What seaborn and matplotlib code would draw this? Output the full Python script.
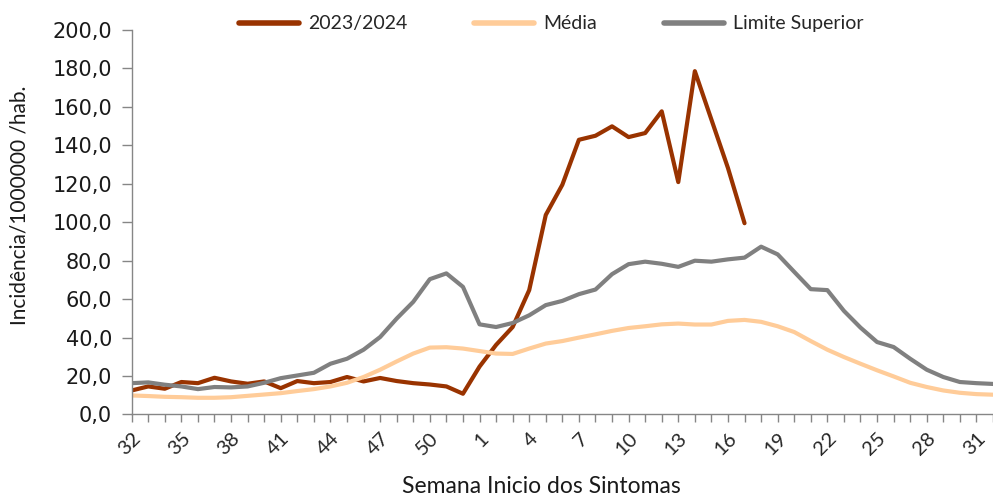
import numpy as np
import pandas as pd
import matplotlib.pyplot as plt
import seaborn as sns
from matplotlib.ticker import FuncFormatter

# Semanas epidemiologicas (32/2023 ... 31/2024, +1 cortada na borda)
weeks = list(range(32, 53)) + list(range(1, 33))

casos_2324 = [12.5, 14.6, 13.4, 16.9, 16.3, 19.1, 17.2, 16.0, 17.2, 13.7,
              17.4, 16.3, 16.9, 19.5, 17.2, 19.0, 17.4, 16.3, 15.6, 14.6,
              10.8, 24.9, 36.2, 45.5, 64.7, 103.8, 119.5, 142.9, 145.0, 149.9,
              144.3, 146.4, 157.7, 120.9, 178.6, 153.4, 128.2, 99.5]

media = [9.9, 9.6, 9.2, 9.0, 8.7, 8.7, 9.0, 9.7, 10.4, 11.1,
         12.2, 13.2, 14.6, 16.5, 19.5, 23.3, 27.6, 31.7, 34.8, 35.0,
         34.3, 33.0, 31.7, 31.5, 34.3, 36.9, 38.2, 40.0, 41.7, 43.5,
         45.0, 45.9, 46.9, 47.3, 46.8, 46.8, 48.7, 49.2, 48.2, 45.9,
         42.9, 38.2, 33.7, 29.9, 26.4, 23.0, 19.8, 16.5, 14.3, 12.5,
         11.3, 10.6, 10.3]

limite_sup = [16.3, 16.7, 15.5, 14.6, 13.2, 14.3, 14.1, 14.6, 16.5, 18.9,
              20.3, 21.7, 26.4, 29.0, 33.7, 40.3, 49.9, 58.6, 70.4, 73.4,
              66.4, 46.9, 45.5, 47.6, 51.6, 56.9, 59.1, 62.6, 65.0, 73.0,
              78.2, 79.5, 78.4, 76.8, 80.0, 79.5, 80.7, 81.6, 87.3, 83.3,
              74.2, 65.2, 64.7, 53.9, 45.2, 37.7, 35.1, 29.0, 23.3, 19.5,
              16.9, 16.3, 15.9]

series_names = ["2023/2024", "Média", "Limite Superior"]
colors = {"2023/2024": "#993300", "Média": "#FFCC99", "Limite Superior": "#808080"}


def main():
    sns.set_theme(style="white")
    plt.rcParams['font.family'] = ['DejaVu Sans']

    n = len(weeks)
    idx = np.arange(n)
    red = casos_2324 + [np.nan] * (n - len(casos_2324))
    df = pd.DataFrame({
        "pos": np.tile(idx, 3),
        "valor": red + media + limite_sup,
        "serie": np.repeat(series_names, n),
    })

    fig = plt.figure(figsize=(9.93, 4.97), dpi=100)
    ax = fig.add_axes([0.1326, 0.166, 0.8674, 0.7736])

    sns.lineplot(data=df, x="pos", y="valor", hue="serie", hue_order=series_names,
                 palette=colors, linewidth=3.0, ax=ax, legend=False)

    ax.set_xlim(0, 51.52)
    ax.set_ylim(0, 200)

    # eixo y
    ax.set_yticks(np.arange(0, 201, 20))
    ax.yaxis.set_major_formatter(FuncFormatter(lambda v, p: f"{v:.1f}".replace(".", ",")))
    ax.tick_params(axis="y", direction="out", length=7.5, width=1, color="#868686",
                   labelsize=15, pad=6.5, left=True)
    for lab in ax.get_yticklabels():
        lab.set_color("#1a1a1a")

    # eixo x
    ax.set_xticks(idx)
    ax.set_xticklabels([str(w) if i % 3 == 0 else "" for i, w in enumerate(weeks)],
                       rotation=45, ha="right", va="top", rotation_mode="anchor",
                       fontsize=14.5, family="Lato")
    ax.tick_params(axis="x", direction="out", length=6, width=1, color="#868686",
                   pad=5, bottom=True)

    for side in ["top", "right"]:
        ax.spines[side].set_visible(False)
    for side in ["left", "bottom"]:
        ax.spines[side].set_color("#868686")
        ax.spines[side].set_linewidth(1)

    ax.set_xlabel("")
    ax.set_ylabel("")
    fig.text(541 / 993, 0.008, "Semana Inicio dos Sintomas", ha="center", va="baseline",
             fontsize=16.5, family="Lato", color="#1a1a1a")
    fig.text(0.02, 0.587, "Incidência/1000000 /hab.", rotation=90, ha="center",
             va="center", fontsize=15, family="Lato", color="#1a1a1a")

    handles = [plt.Line2D([], [], color=colors[s], linewidth=4) for s in series_names]
    fig.legend(handles, series_names, loc="center", bbox_to_anchor=(0.555, 0.952),
               ncol=3, frameon=False, handlelength=3.1, columnspacing=3.45,
               handletextpad=0.45, prop={"family": "Lato", "size": 14})

    fig.savefig("out.png", dpi=100)
    plt.close(fig)


if __name__ == "__main__":
    main()
